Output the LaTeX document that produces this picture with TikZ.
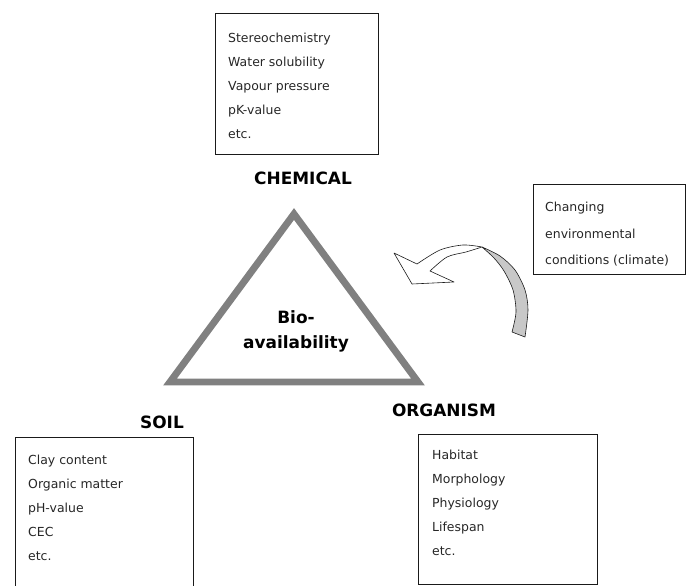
\documentclass[tikz,border=0pt]{standalone}
\usepackage{fontspec}
\setmainfont{DejaVu Sans}
\usetikzlibrary{positioning}
\definecolor{ink}{HTML}{1A1A1A}
\definecolor{txt}{HTML}{262626}
\definecolor{tri}{HTML}{808080}
\definecolor{twist}{HTML}{C8C8C8}
\tikzset{
  frame/.style={draw=ink,line width=1pt,anchor=north west,inner sep=0pt},
  list/.style={anchor=north west,inner sep=0pt,align=left,text=txt,font=\fontsize{12.5}{24}\selectfont},
  listw/.style={list,font=\fontsize{12.5}{26.5}\selectfont},
  head/.style={inner sep=0pt,align=center,text=black,font=\bfseries\fontsize{17}{25}\selectfont},
  triline/.style={draw=tri,line width=7pt,miter limit=10},
  curl/.style={draw=ink,line width=.6pt,line join=round},
}

\begin{document}
\begin{tikzpicture}[x=1bp,y=1bp]
  \useasboundingbox (0,0) rectangle (686,-586);
  % boxes of properties
  \node[frame,minimum width=163bp,minimum height=141bp] (chemBox) at (215,-13) {};
  \node[list,below right=20bp and 13bp of chemBox.north west] (chemList) {Stereochemistry\\Water solubility\\Vapour pressure\\pK-value\\etc.};
  \node[frame,minimum width=152bp,minimum height=90bp] (climBox) at (533,-184) {};
  \node[listw,below right=18bp and 12bp of climBox.north west] (climList) {Changing\\environmental\\conditions (climate)};
  \node[frame,minimum width=178bp,minimum height=160bp] (soilBox) at (15,-437) {};
  \node[list,below right=18bp and 13bp of soilBox.north west] (soilList) {Clay content\\Organic matter\\pH-value\\CEC\\etc.};
  \node[frame,minimum width=179bp,minimum height=150bp] (orgBox) at (418,-434) {};
  \node[list,below right=16bp and 14bp of orgBox.north west] (orgList) {Habitat\\Morphology\\Physiology\\Lifespan\\etc.};
  % triangle
  \draw[triline] (170,-382) coordinate (tSoil) -- (294,-214) coordinate (tChem) -- (418,-382) coordinate (tOrg) -- cycle;
  \node[head] (bio) at (296,-331) {Bio-\\availability};
  \node[head] (chem) at (303,-178) {CHEMICAL};
  \node[head] (soil) at (162,-422) {SOIL};
  \node[head] (org) at (444,-410) {ORGANISM};
  % curled arrow
  \draw[curl,fill=white] (394,-253) -- (417,-264)
    -- plot[smooth] coordinates {(417,-264) (440,-250) (463,-245) (482,-247)}
    -- plot[smooth] coordinates {(482,-247) (466,-252) (447,-257) (430,-271)}
    -- (454,-282) -- (412,-284) -- cycle;
  \draw[curl,fill=twist] (482,-247)
    -- plot[smooth] coordinates {(482,-247) (500,-256) (515,-270) (525,-290) (528,-310) (525,-337)}
    -- (512,-332)
    -- plot[smooth] coordinates {(512,-332) (516,-312) (513,-290) (504,-271) (494,-258) (482,-247)} -- cycle;
\end{tikzpicture}
\end{document}
